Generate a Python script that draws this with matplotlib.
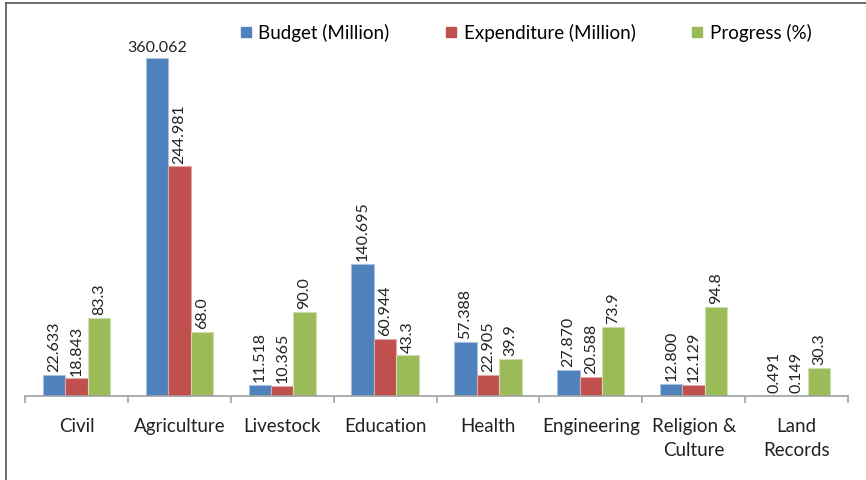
import matplotlib
matplotlib.use("Agg")
import matplotlib.pyplot as plt
import numpy as np
from matplotlib.lines import Line2D

categories = ["Civil", "Agriculture", "Livestock", "Education", "Health",
              "Engineering", "Religion &\nCulture", "Land\nRecords"]
budget = [22.633, 360.062, 11.518, 140.695, 57.388, 27.870, 12.800, 0.491]
expenditure = [18.843, 244.981, 10.365, 60.944, 22.905, 20.588, 12.129, 0.149]
progress = [83.3, 68.0, 90.0, 43.3, 39.9, 73.9, 94.8, 30.3]
series_names = ["Budget (Million)", "Expenditure (Million)", "Progress (%)"]
colors = ["#4F81BD", "#C0504D", "#9BBB59"]
edge_colors = ["#A7C0DE", "#E0A8A6", "#CDDDAC"]

plt.rcParams['font.family'] = ['Lato', 'DejaVu Sans']

fig = plt.figure(figsize=(8.66, 4.8), dpi=100)
W, H = 866, 480
ax = fig.add_axes([25 / W, 1 - 396 / H, (848 - 25) / W, (396 - 21) / H])

x = np.arange(len(categories))
bw = 0.218
data = [budget, expenditure, progress]
fmts = ["{:.3f}", "{:.3f}", "{:.1f}"]
for i, (vals, c, ec, fmt) in enumerate(zip(data, colors, edge_colors, fmts)):
    pos = x + (i - 1) * bw
    ax.bar(pos, vals, width=bw, color=c, edgecolor=ec, linewidth=0.8,
           label=series_names[i])
    for p, v in zip(pos, vals):
        s = fmt.format(v)
        if v > 300:
            ax.text(p, v + 4, s, ha="center", va="bottom", fontsize=11.5,
                    color="#222222")
        else:
            ax.text(p, v + 3, s, ha="center", va="bottom", rotation=90,
                    fontsize=11.5, color="#222222")

ax.set_xlim(-0.5, len(categories) - 0.5)
ax.set_ylim(0, 400)
for s in ["top", "right", "left"]:
    ax.spines[s].set_visible(False)
ax.spines["bottom"].set_color("#A0A0A0")
ax.spines["bottom"].set_linewidth(1.2)
ax.set_yticks([])
ax.set_xticks(np.arange(-0.5, len(categories), 1.0))
ax.set_xticklabels([])
ax.tick_params(axis="x", length=5, color="#A0A0A0", width=1.2)
ax.set_xticks(x, minor=True)
ax.set_xticklabels(categories, minor=True, fontsize=13.5, color="#222222",
                   linespacing=1.5)
ax.tick_params(axis="x", which="minor", length=0, pad=16)

handles = [Line2D([0], [0], marker="s", linestyle="", markersize=7.5,
                  markerfacecolor=c, markeredgecolor=c) for c in colors]
fig.legend(handles, series_names, loc="center", bbox_to_anchor=(525 / W, 1 - 33 / H),
           ncol=3, frameon=False, fontsize=13.5, handletextpad=0.25,
           columnspacing=2.9, handlelength=0.8)

fig.add_artist(Line2D([6 / W, 6 / W], [0, 1 - 3 / H], color="#555555",
                      linewidth=1.2, transform=fig.transFigure))
fig.add_artist(Line2D([6 / W, 1], [1 - 3 / H, 1 - 3 / H], color="#555555",
                      linewidth=1.2, transform=fig.transFigure))

fig.savefig("out.png", dpi=100)
